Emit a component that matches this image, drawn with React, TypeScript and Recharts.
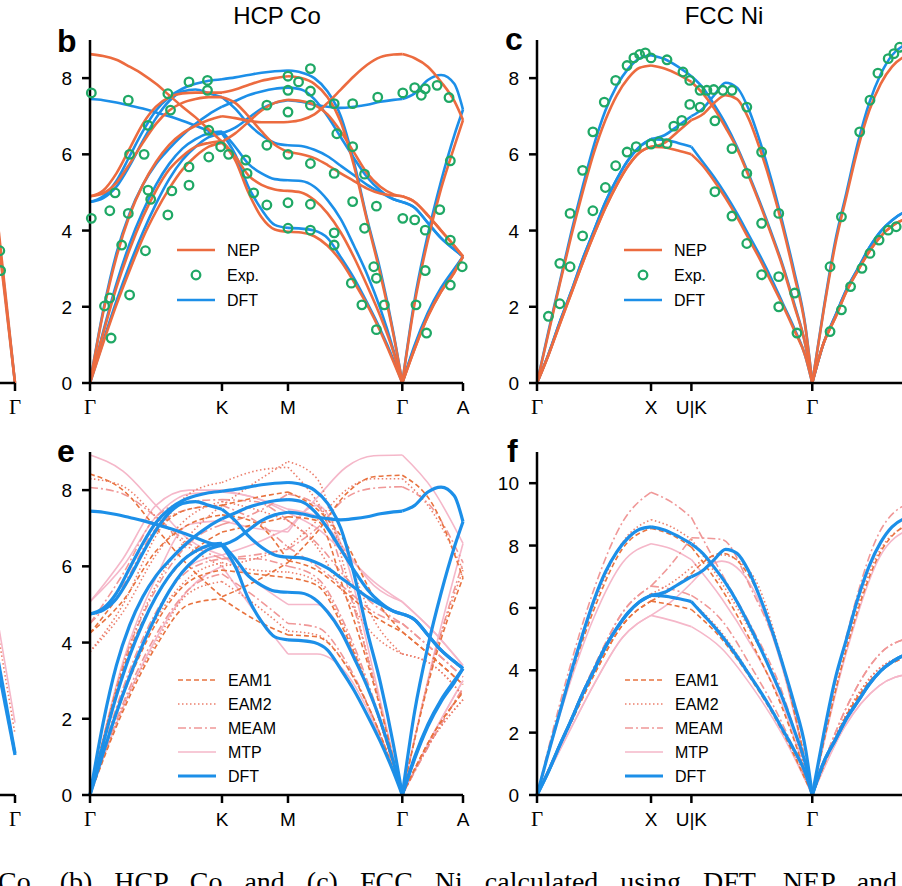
import React from "react";
import { ComposedChart, Line, Scatter, XAxis, YAxis, Legend } from "recharts";

const ORANGE = "#ec6b3f";
const BLUE = "#1c8fe8";
const GREEN = "#1fa865";
const EAM1_C = "#e8733f";
const EAM2_C = "#ec7f6c";
const MEAM_C = "#f09898";
const MTP_C = "#f5b7c9";

const SANS = "'Liberation Sans', Arial, Helvetica, sans-serif";
const SERIF = "'Liberation Serif', 'Times New Roman', serif";
const AXIS = { stroke: "#000", strokeWidth: 2.5 };

// ---- HCP Co: path Γ-K-M-Γ-A ----
const coPath = [
  0, 0.1, 0.2, 0.3, 0.4, 0.5, 0.6, 0.7, 0.8, 0.9, 1.0,
  1.1, 1.2, 1.3, 1.4, 1.5,
  1.6, 1.7, 1.8, 1.9, 2.0, 2.1, 2.2, 2.3, 2.366,
  2.46, 2.56, 2.66, 2.76, 2.826,
];
const coCuts = [0, 10, 15, 24, 29];
const coTicks = [0, 1, 1.5, 2.366, 2.826];
const coTickNames = ["Γ", "K", "M", "Γ", "A"];

const coDft: number[][] = [
  [0, 1.1, 2.15, 3.1, 3.95, 4.7, 5.35, 5.85, 6.2, 6.45, 6.55, 6.0, 5.15, 4.55, 4.15, 4.07, 4.05, 4.0, 3.8, 3.3, 2.75, 2.1, 1.4, 0.6, 0, 1.0, 1.85, 2.5, 3.0, 3.32],
  [0, 1.35, 2.6, 3.65, 4.5, 5.2, 5.75, 6.15, 6.4, 6.55, 6.6, 6.2, 5.75, 5.5, 5.35, 5.32, 5.3, 5.15, 4.8, 4.3, 3.6, 2.85, 1.95, 0.85, 0, 0.95, 1.8, 2.45, 2.95, 3.32],
  [0, 1.9, 3.4, 4.45, 5.2, 5.75, 6.15, 6.5, 6.8, 7.05, 7.25, 7.4, 7.55, 7.65, 7.72, 7.75, 7.7, 7.45, 7.0, 6.45, 5.9, 5.4, 5.05, 4.82, 4.75, 4.6, 4.2, 3.8, 3.5, 3.32],
  [7.45, 7.42, 7.36, 7.28, 7.2, 7.1, 7.0, 6.88, 6.75, 6.62, 6.55, 6.7, 6.95, 7.2, 7.35, 7.42, 7.38, 7.3, 7.25, 7.22, 7.25, 7.3, 7.38, 7.43, 7.45, 7.6, 7.95, 8.08, 7.85, 7.17],
  [4.75, 4.85, 5.15, 5.7, 6.35, 6.95, 7.4, 7.65, 7.7, 7.6, 7.5, 7.2, 6.8, 6.5, 6.3, 6.24, 6.22, 6.12, 5.95, 5.7, 5.45, 5.2, 5.0, 4.82, 4.75, 4.6, 4.2, 3.8, 3.5, 3.32],
  [4.75, 4.9, 5.3, 5.95, 6.6, 7.15, 7.5, 7.72, 7.85, 7.93, 7.97, 8.02, 8.08, 8.14, 8.18, 8.2, 8.15, 8.0, 7.65, 7.0, 5.8, 4.3, 2.95, 1.3, 0, 2.2, 3.9, 5.3, 6.5, 7.17],
];

const coNep: number[][] = [
  [0, 1.05, 2.05, 2.95, 3.8, 4.5, 5.1, 5.6, 5.95, 6.2, 6.3, 5.85, 5.0, 4.35, 4.03, 3.97, 3.95, 3.85, 3.6, 3.2, 2.65, 2.05, 1.35, 0.55, 0, 0.9, 1.75, 2.4, 2.9, 3.32],
  [0, 1.3, 2.5, 3.5, 4.35, 5.05, 5.6, 5.95, 6.2, 6.3, 6.35, 5.95, 5.45, 5.2, 5.08, 5.04, 5.0, 4.8, 4.45, 3.95, 3.3, 2.55, 1.75, 0.8, 0, 0.9, 1.75, 2.4, 2.9, 3.32],
  [0, 1.85, 3.3, 4.4, 5.2, 5.8, 6.25, 6.55, 6.75, 6.9, 7.0, 6.95, 6.88, 6.84, 6.84, 6.85, 6.9, 7.05, 7.35, 7.7, 8.05, 8.35, 8.55, 8.62, 8.63, 8.52, 8.3, 7.9, 7.4, 6.9],
  [8.63, 8.58, 8.48, 8.3, 8.1, 7.85, 7.55, 7.25, 6.97, 6.65, 6.33, 6.55, 6.85, 7.15, 7.35, 7.43, 7.4, 7.3, 7.05, 6.6, 6.05, 5.5, 5.15, 4.95, 4.9, 4.75, 4.4, 4.0, 3.6, 3.32],
  [4.9, 4.98, 5.25, 5.75, 6.3, 6.8, 7.15, 7.35, 7.45, 7.5, 7.5, 7.35, 7.0, 6.6, 6.25, 6.06, 6.0, 5.9, 5.72, 5.5, 5.3, 5.1, 4.97, 4.92, 4.9, 4.75, 4.4, 4.0, 3.6, 3.32],
  [4.9, 5.05, 5.5, 6.15, 6.8, 7.25, 7.5, 7.6, 7.62, 7.62, 7.62, 7.7, 7.82, 7.93, 8.0, 8.05, 8.0, 7.85, 7.5, 6.85, 5.7, 4.25, 2.85, 1.25, 0, 2.1, 3.75, 5.1, 6.2, 6.9],
];

const coExp: [number, number][] = [
  [0.01, 7.61], [0.01, 4.32], [0.29, 7.42], [0.15, 4.52], [0.19, 4.99], [0.11, 2.02], [0.15, 2.23],
  [0.16, 1.18], [0.24, 3.62], [0.3, 2.31], [0.29, 4.45], [0.3, 6.0], [0.41, 6.0], [0.44, 5.06],
  [0.46, 4.82], [0.42, 3.47], [0.44, 6.76], [0.59, 7.59], [0.61, 7.16], [0.62, 5.04], [0.59, 4.41],
  [0.75, 7.9], [0.75, 5.67], [0.75, 5.19], [0.89, 7.94], [0.89, 7.68], [0.9, 6.63], [0.9, 5.93],
  [0.99, 6.2], [1.05, 6.0], [1.18, 5.85], [1.19, 5.5], [1.24, 4.99], [1.34, 4.67], [1.34, 6.24],
  [1.34, 7.29], [1.5, 8.05], [1.5, 7.68], [1.5, 7.11], [1.5, 6.0], [1.5, 4.73], [1.5, 4.06],
  [1.58, 7.9], [1.67, 8.25], [1.67, 7.66], [1.67, 7.29], [1.67, 5.76], [1.67, 4.69], [1.67, 4.01],
  [1.85, 7.33], [1.85, 5.5], [1.85, 3.94], [1.85, 3.62], [1.87, 6.54], [1.99, 7.33], [1.99, 6.2],
  [1.99, 4.76], [1.98, 2.62], [2.06, 2.05], [2.08, 5.48], [2.08, 4.06], [2.15, 3.05], [2.17, 2.75],
  [2.17, 4.64], [2.17, 1.4], [2.18, 7.5], [2.23, 2.05], [2.37, 7.61], [2.37, 4.32], [2.46, 7.75],
  [2.46, 4.28], [2.47, 2.05], [2.51, 7.55], [2.54, 7.72], [2.54, 4.01], [2.54, 2.95], [2.55, 1.31],
  [2.63, 7.81], [2.65, 4.55], [2.72, 7.49], [2.73, 5.83], [2.73, 3.75], [2.73, 2.57], [2.82, 3.05],
];

// classical / ML potentials for Co on a coarser path grid
const coCoarse = [0, 0.25, 0.5, 0.75, 1.0, 1.25, 1.5, 1.72, 1.94, 2.15, 2.366, 2.6, 2.826];
const coCoarseCuts = [0, 4, 6, 10, 12];

const coEam1: number[][] = [
  [0, 2.2, 3.9, 5.0, 5.15, 4.6, 4.2, 4.15, 3.4, 2.0, 0, 1.6, 2.7],
  [0, 2.6, 4.5, 5.6, 5.9, 5.8, 5.7, 5.5, 4.2, 2.4, 0, 1.6, 2.7],
  [0, 3.3, 5.2, 6.3, 6.9, 7.1, 7.3, 7.2, 5.2, 2.9, 0, 3.4, 5.7],
  [4.25, 5.1, 6.4, 7.1, 7.35, 7.15, 6.15, 5.9, 5.3, 4.7, 4.28, 3.6, 2.9],
  [4.25, 5.4, 6.9, 7.5, 7.6, 7.8, 7.95, 7.5, 6.6, 5.2, 4.28, 3.6, 2.9],
  [8.42, 8.0, 7.0, 6.0, 5.2, 5.6, 6.1, 6.9, 7.9, 8.35, 8.39, 7.6, 5.7],
];
const coEam2: number[][] = [
  [0, 2.3, 4.0, 5.3, 5.6, 5.0, 4.3, 4.2, 3.4, 2.0, 0, 1.5, 2.5],
  [0, 2.7, 4.6, 5.7, 6.1, 5.9, 5.85, 5.6, 4.3, 2.4, 0, 1.5, 2.5],
  [0, 3.4, 5.5, 6.8, 7.6, 8.2, 8.75, 8.3, 5.8, 3.0, 0, 3.5, 5.9],
  [3.76, 5.0, 6.8, 7.9, 8.2, 8.5, 8.6, 7.7, 6.3, 4.6, 3.7, 3.4, 2.6],
  [3.76, 4.8, 6.3, 7.3, 7.7, 7.5, 7.2, 6.5, 5.2, 4.2, 3.7, 3.4, 2.6],
  [8.3, 8.1, 7.3, 6.5, 6.0, 6.2, 6.5, 7.2, 8.0, 8.3, 8.3, 7.4, 5.9],
];
const coMeam: number[][] = [
  [0, 2.4, 4.2, 5.4, 5.8, 5.2, 4.5, 4.4, 3.5, 2.0, 0, 1.5, 2.8],
  [0, 2.8, 4.8, 5.9, 6.2, 6.2, 6.0, 5.7, 4.4, 2.5, 0, 1.5, 2.8],
  [0, 3.4, 5.4, 6.6, 7.1, 7.4, 7.9, 7.6, 5.6, 3.0, 0, 3.5, 6.1],
  [4.5, 5.5, 7.0, 7.5, 7.6, 7.2, 6.5, 6.0, 5.4, 4.8, 4.5, 3.8, 3.1],
  [4.5, 5.8, 7.3, 7.7, 7.75, 7.7, 7.2, 6.6, 5.7, 5.0, 4.5, 3.8, 3.1],
  [8.07, 7.9, 7.3, 6.6, 6.2, 6.3, 6.45, 7.0, 7.8, 8.05, 8.09, 7.5, 6.1],
];
const coMtp: number[][] = [
  [0, 2.3, 4.1, 5.4, 6.0, 4.8, 3.7, 3.7, 3.2, 1.9, 0, 1.6, 3.0],
  [0, 2.7, 4.7, 6.0, 6.3, 5.6, 5.0, 5.0, 4.1, 2.4, 0, 1.6, 3.0],
  [0, 3.5, 5.7, 7.1, 7.2, 7.0, 6.9, 7.6, 6.2, 3.2, 0, 3.6, 6.6],
  [5.07, 6.0, 7.3, 7.9, 7.95, 7.8, 7.4, 7.0, 6.3, 5.6, 5.07, 4.3, 3.4],
  [5.07, 6.2, 7.6, 8.0, 8.0, 7.8, 7.5, 7.3, 6.4, 5.5, 5.07, 4.3, 3.4],
  [8.92, 8.5, 7.6, 6.7, 6.3, 6.6, 7.0, 7.8, 8.6, 8.9, 8.92, 8.0, 6.6],
];

// ---- FCC Ni: path Γ-X-U|K-Γ-L ----
const niPath = [
  0, 0.1, 0.2, 0.3, 0.4, 0.5, 0.6, 0.7, 0.8, 0.9, 1.0,
  1.118, 1.236, 1.354,
  1.454, 1.554, 1.654, 1.754, 1.854, 1.954, 2.054, 2.154, 2.254, 2.354, 2.414,
  2.514, 2.614, 2.714, 2.814, 2.914, 3.014, 3.114, 3.214, 3.28,
];
const niCuts = [0, 10, 13, 24, 33];
const niTicks = [0, 1, 1.354, 2.414];
const niTickNames = ["Γ", "X", "U|K", "Γ"];

const niDft: number[][] = [
  [0, 1.35, 2.65, 3.95, 5.15, 6.25, 7.15, 7.8, 8.25, 8.52, 8.6, 8.5, 8.3, 8.05, 7.75, 7.3, 6.8, 6.2, 5.5, 4.75, 3.95, 3.1, 2.1, 1.0, 0, 1.95, 3.7, 5.0, 6.3, 7.35, 8.1, 8.6, 8.85, 8.92],
  [0, 0.75, 1.6, 2.4, 3.25, 4.0, 4.75, 5.35, 5.85, 6.2, 6.4, 6.5, 6.75, 7.0, 7.2, 7.55, 7.88, 7.75, 7.2, 6.35, 5.35, 4.2, 2.95, 1.5, 0, 1.05, 1.75, 2.45, 3.0, 3.55, 3.98, 4.27, 4.47, 4.52],
  [0, 0.75, 1.6, 2.4, 3.25, 4.0, 4.75, 5.35, 5.85, 6.2, 6.4, 6.38, 6.3, 6.2, 5.8, 5.4, 4.95, 4.45, 3.9, 3.35, 2.75, 2.1, 1.45, 0.7, 0, 1.05, 1.75, 2.45, 3.0, 3.55, 3.98, 4.27, 4.47, 4.52],
];
const niNep: number[][] = [
  [0, 1.3, 2.6, 3.85, 5.0, 6.05, 6.9, 7.55, 8.0, 8.27, 8.33, 8.25, 8.1, 7.9, 7.6, 7.2, 6.7, 6.15, 5.45, 4.7, 3.9, 3.05, 2.05, 1.0, 0, 1.9, 3.6, 4.9, 6.15, 7.15, 7.85, 8.3, 8.55, 8.62],
  [0, 0.73, 1.55, 2.35, 3.15, 3.9, 4.6, 5.2, 5.7, 6.05, 6.2, 6.3, 6.6, 6.9, 7.05, 7.35, 7.55, 7.45, 6.95, 6.15, 5.2, 4.1, 2.85, 1.45, 0, 1.05, 1.7, 2.4, 2.95, 3.45, 3.85, 4.12, 4.28, 4.32],
  [0, 0.73, 1.55, 2.35, 3.15, 3.9, 4.6, 5.2, 5.7, 6.05, 6.2, 6.18, 6.1, 6.0, 5.7, 5.3, 4.85, 4.35, 3.8, 3.25, 2.65, 2.05, 1.4, 0.7, 0, 1.05, 1.7, 2.4, 2.95, 3.45, 3.85, 4.12, 4.28, 4.32],
];

const niExp: [number, number][] = [
  [0.1, 1.75], [0.2, 2.08], [0.2, 3.14], [0.29, 3.05], [0.29, 4.45], [0.4, 3.86], [0.4, 5.58],
  [0.49, 4.52], [0.49, 6.59], [0.59, 7.37], [0.6, 5.13], [0.69, 7.94], [0.69, 5.7], [0.79, 8.33],
  [0.79, 6.06], [0.85, 8.53], [0.87, 6.2], [0.9, 8.62], [0.95, 8.66], [1.0, 8.53], [1.0, 6.27],
  [1.07, 6.33], [1.14, 8.48], [1.14, 6.28], [1.2, 6.74], [1.27, 6.89], [1.28, 8.16], [1.34, 7.94],
  [1.34, 7.31], [1.43, 7.68], [1.43, 7.24], [1.49, 7.68], [1.55, 7.7], [1.56, 6.88], [1.63, 7.68],
  [1.71, 7.68], [1.71, 6.15], [1.84, 7.24], [1.84, 5.5], [1.56, 5.02], [1.71, 4.38], [1.84, 3.66],
  [1.97, 6.06], [1.97, 4.19], [1.97, 2.84], [2.12, 4.45], [2.12, 2.79], [2.12, 2.0], [2.26, 2.36],
  [2.28, 1.31], [2.57, 3.05], [2.57, 1.35], [2.67, 4.36], [2.67, 1.92], [2.75, 2.53], [2.83, 6.59],
  [2.85, 3.01], [2.92, 7.42], [2.92, 3.4], [2.99, 8.13], [3.0, 3.75], [3.08, 8.51], [3.08, 4.01],
  [3.13, 8.64], [3.15, 4.1], [3.18, 8.81],
];

const niCoarse = [0, 0.25, 0.5, 0.75, 1.0, 1.177, 1.354, 1.62, 1.88, 2.15, 2.414, 2.7, 3.0, 3.28];
const niCoarseCuts = [0, 4, 6, 10, 13];

const niEam1: number[][] = [
  [0, 3.25, 5.95, 7.9, 8.55, 8.35, 7.95, 6.6, 4.9, 2.8, 0, 4.5, 7.7, 8.75],
  [0, 1.95, 3.85, 5.45, 6.22, 6.6, 7.1, 7.75, 6.9, 4.2, 0, 2.45, 3.95, 4.45],
  [0, 1.95, 3.85, 5.45, 6.22, 6.1, 5.95, 5.0, 3.7, 2.05, 0, 2.45, 3.95, 4.45],
];
const niEam2: number[][] = [
  [0, 3.35, 6.1, 8.1, 8.83, 8.6, 8.2, 6.8, 5.2, 3.2, 0, 4.6, 7.8, 8.7],
  [0, 2.0, 3.95, 5.6, 6.45, 6.8, 7.3, 7.7, 7.1, 4.3, 0, 2.5, 4.05, 4.5],
  [0, 2.0, 3.95, 5.6, 6.45, 6.35, 6.2, 5.2, 3.8, 2.15, 0, 2.5, 4.05, 4.5],
];
const niMeam: number[][] = [
  [0, 3.6, 6.6, 8.75, 9.71, 9.4, 8.9, 7.1, 5.4, 3.3, 0, 4.9, 8.4, 9.4],
  [0, 2.05, 4.1, 5.85, 6.7, 7.4, 8.25, 8.2, 6.6, 4.2, 0, 2.7, 4.5, 5.05],
  [0, 2.05, 4.1, 5.85, 6.7, 6.6, 6.4, 5.6, 4.1, 2.3, 0, 2.7, 4.5, 5.05],
];
const niMtp: number[][] = [
  [0, 3.15, 5.7, 7.45, 8.06, 7.9, 7.55, 6.3, 4.8, 2.9, 0, 4.4, 7.6, 8.55],
  [0, 1.8, 3.55, 5.05, 5.76, 6.2, 6.8, 7.5, 6.7, 4.1, 0, 2.2, 3.5, 3.9],
  [0, 1.8, 3.55, 5.05, 5.76, 5.6, 5.4, 4.7, 3.5, 1.95, 0, 2.2, 3.5, 3.9],
];

// tails of the neighbouring panels on the far left
const tailPath = [0.8, 1];
const tailCuts = [0, 1];
const tailNep = [[4.9, 0], [4.5, 0]];
const tailDftTop = [[4.7, 0]];
const tailExp: [number, number][] = [[0.848, 3.47], [0.856, 2.95]];
const tailDftBottom = [[4.0, 1.1], [3.75, 1.05]];
const tailMtp = [[5.0, 1.9]];
const tailEam2 = [[4.7, 1.6]];

type Style = { color: string; width: number; dash?: string; curve?: "monotone" | "linear" };

const STYLE = {
  nep: { color: ORANGE, width: 2.6 },
  dft: { color: BLUE, width: 2.6 },
  dftBold: { color: BLUE, width: 3.2 },
  eam1: { color: EAM1_C, width: 1.6, dash: "5 3" },
  eam2: { color: EAM2_C, width: 1.6, dash: "1.5 2.5" },
  meam: { color: MEAM_C, width: 1.6, dash: "8 3 2 3" },
  mtp: { color: MTP_C, width: 1.6 },
};

function bandLines(id: string, path: number[], cuts: number[], bands: number[][], st: Style) {
  const out: React.ReactElement[] = [];
  bands.forEach((band, b) => {
    for (let s = 0; s < cuts.length - 1; s++) {
      const pts: { x: number; y: number }[] = [];
      for (let j = cuts[s]; j <= cuts[s + 1]; j++) pts.push({ x: path[j], y: band[j] });
      out.push(
        <Line
          key={`${id}-${b}-${s}`}
          data={pts}
          dataKey="y"
          type={st.curve ?? "monotone"}
          stroke={st.color}
          strokeWidth={st.width}
          strokeDasharray={st.dash}
          dot={false}
          activeDot={false}
          legendType="none"
          isAnimationActive={false}
        />
      );
    }
  });
  return out;
}

const ring = (p: any) => (
  <circle cx={p.cx} cy={p.cy} r={4.3} fill="none" stroke={GREEN} strokeWidth={2.3} />
);

function expPoints(id: string, pts: [number, number][]) {
  return (
    <Scatter
      key={id}
      data={pts.map(([x, y]) => ({ x, y }))}
      shape={ring}
      legendType="none"
      isAnimationActive={false}
    />
  );
}

type LegendRow = { label: string; color: string; width: number; dash?: string; marker?: boolean };

const coreLegend: LegendRow[] = [
  { label: "NEP", color: ORANGE, width: 2.6 },
  { label: "Exp.", color: GREEN, width: 2.3, marker: true },
  { label: "DFT", color: BLUE, width: 2.6 },
];
const potLegend: LegendRow[] = [
  { label: "EAM1", color: EAM1_C, width: 1.6, dash: "5 3" },
  { label: "EAM2", color: EAM2_C, width: 1.6, dash: "1.5 2.5" },
  { label: "MEAM", color: MEAM_C, width: 1.6, dash: "8 3 2 3" },
  { label: "MTP", color: MTP_C, width: 1.6 },
  { label: "DFT", color: BLUE, width: 3.2 },
];

function legendBox(rows: LegendRow[], step: number) {
  return () => (
    <svg width={110} height={rows.length * step + 6} style={{ display: "block" }}>
      {rows.map((r, i) => {
        const cy = 12 + i * step;
        return (
          <g key={r.label}>
            {r.marker ? (
              <circle cx={21} cy={cy} r={4.3} fill="none" stroke={r.color} strokeWidth={r.width} />
            ) : (
              <line x1={2} x2={40} y1={cy} y2={cy} stroke={r.color} strokeWidth={r.width} strokeDasharray={r.dash} />
            )}
            <text x={52} y={cy} dy="0.36em" fontSize={16} fontFamily={SANS} fill="#000">
              {r.label}
            </text>
          </g>
        );
      })}
    </svg>
  );
}

function panelLegend(rows: LegendRow[], step: number, left: number, top: number) {
  return (
    <Legend
      key="legend"
      layout="vertical"
      align="center"
      verticalAlign="middle"
      content={legendBox(rows, step)}
      wrapperStyle={{ left, top, width: 110 }}
    />
  );
}

function xTickRenderer(ticks: number[], names: string[]) {
  return (props: any) => {
    const { x, y, payload } = props;
    const i = ticks.findIndex((t) => Math.abs(t - payload.value) < 1e-6);
    const name = i >= 0 ? names[i] : "";
    const greek = name === "Γ";
    return (
      <text
        x={x}
        y={y + 21}
        textAnchor="middle"
        fill="#000"
        fontSize={greek ? 21 : 19}
        fontFamily={greek ? SERIF : SANS}
      >
        {name}
      </text>
    );
  };
}

const yTick = (props: any) => (
  <text x={props.x} y={props.y} dy={7} textAnchor="end" fill="#000" fontSize={19} fontFamily={SANS}>
    {props.payload.value}
  </text>
);

type PanelProps = {
  left: number;
  top: number;
  width: number;
  xEnd: number;
  ticks: number[];
  names: string[];
  yMax: number;
  yTicks: number[];
  hideY?: boolean;
  children: React.ReactNode;
};

function BandPanel(p: PanelProps) {
  return (
    <div style={{ position: "absolute", left: p.left, top: p.top }}>
      <ComposedChart width={p.width} height={393} margin={{ top: 10, right: 20, bottom: 0, left: 0 }}>
        <XAxis
          type="number"
          dataKey="x"
          domain={[0, p.xEnd]}
          ticks={p.ticks}
          interval={0}
          height={40}
          tickSize={8}
          tickMargin={2}
          axisLine={AXIS}
          tickLine={AXIS}
          tick={xTickRenderer(p.ticks, p.names)}
        />
        <YAxis
          type="number"
          dataKey="y"
          domain={[0, p.yMax]}
          ticks={p.yTicks}
          interval={0}
          width={60}
          hide={p.hideY}
          tickSize={8}
          tickMargin={10}
          axisLine={AXIS}
          tickLine={AXIS}
          tick={yTick}
        />
        {p.children}
      </ComposedChart>
    </div>
  );
}

const yTicks9 = [0, 2, 4, 6, 8];
const yTicks11 = [0, 2, 4, 6, 8, 10];

export default function App() {
  return (
    <div
      style={{
        position: "absolute",
        left: 0,
        top: 0,
        width: 902,
        height: 886,
        overflow: "hidden",
        background: "#fff",
      }}
    >
      {/* a: tail of the previous panel */}
      <BandPanel left={-85} top={30} width={120} xEnd={1} ticks={[1]} names={["Γ"]} yMax={9} yTicks={yTicks9} hideY>
        {[
          ...bandLines("ad", tailPath, tailCuts, tailDftTop, { ...STYLE.dft, curve: "linear" }),
          ...bandLines("an", tailPath, tailCuts, tailNep, { ...STYLE.nep, curve: "linear" }),
          expPoints("ax", tailExp),
        ]}
      </BandPanel>

      {/* b: HCP Co, NEP vs DFT vs experiment */}
      <BandPanel left={30} top={30} width={453} xEnd={2.826} ticks={coTicks} names={coTickNames} yMax={9} yTicks={yTicks9}>
        {[
          ...bandLines("bd", coPath, coCuts, coDft, STYLE.dft),
          ...bandLines("bn", coPath, coCuts, coNep, STYLE.nep),
          expPoints("bx", coExp),
          panelLegend(coreLegend, 25, 145, 208),
        ]}
      </BandPanel>

      {/* c: FCC Ni, NEP vs DFT vs experiment */}
      <BandPanel left={477} top={30} width={454} xEnd={3.28} ticks={niTicks} names={niTickNames} yMax={9} yTicks={yTicks9}>
        {[
          ...bandLines("cd", niPath, niCuts, niDft, STYLE.dft),
          ...bandLines("cn", niPath, niCuts, niNep, STYLE.nep),
          expPoints("cx", niExp),
          panelLegend(coreLegend, 25, 145, 208),
        ]}
      </BandPanel>

      {/* d: tail of the previous panel */}
      <BandPanel left={-85} top={442} width={120} xEnd={1} ticks={[1]} names={["Γ"]} yMax={9} yTicks={yTicks9} hideY>
        {[
          ...bandLines("dm", tailPath, tailCuts, tailMtp, { ...STYLE.mtp, curve: "linear" }),
          ...bandLines("de", tailPath, tailCuts, tailEam2, { ...STYLE.eam2, curve: "linear" }),
          ...bandLines("dd", tailPath, tailCuts, tailDftBottom, { ...STYLE.dftBold, curve: "linear" }),
        ]}
      </BandPanel>

      {/* e: HCP Co, empirical potentials vs DFT */}
      <BandPanel left={30} top={442} width={453} xEnd={2.826} ticks={coTicks} names={coTickNames} yMax={9} yTicks={yTicks9}>
        {[
          ...bandLines("e1", coCoarse, coCoarseCuts, coMtp, STYLE.mtp),
          ...bandLines("e2", coCoarse, coCoarseCuts, coMeam, STYLE.meam),
          ...bandLines("e3", coCoarse, coCoarseCuts, coEam2, STYLE.eam2),
          ...bandLines("e4", coCoarse, coCoarseCuts, coEam1, STYLE.eam1),
          ...bandLines("ed", coPath, coCuts, coDft, STYLE.dftBold),
          panelLegend(potLegend, 24, 146, 226),
        ]}
      </BandPanel>

      {/* f: FCC Ni, empirical potentials vs DFT */}
      <BandPanel left={477} top={442} width={454} xEnd={3.28} ticks={niTicks} names={niTickNames} yMax={11} yTicks={yTicks11}>
        {[
          ...bandLines("f1", niCoarse, niCoarseCuts, niMtp, STYLE.mtp),
          ...bandLines("f2", niCoarse, niCoarseCuts, niMeam, STYLE.meam),
          ...bandLines("f3", niCoarse, niCoarseCuts, niEam2, STYLE.eam2),
          ...bandLines("f4", niCoarse, niCoarseCuts, niEam1, STYLE.eam1),
          ...bandLines("fd", niPath, niCuts, niDft, STYLE.dftBold),
          panelLegend(potLegend, 24, 146, 226),
        ]}
      </BandPanel>

      <svg
        width={902}
        height={886}
        style={{ position: "absolute", left: 0, top: 0, pointerEvents: "none" }}
      >
        <text x={277} y={24} textAnchor="middle" fontSize={24} fontFamily={SANS}>HCP Co</text>
        <text x={724} y={24} textAnchor="middle" fontSize={24} fontFamily={SANS}>FCC Ni</text>
        <text x={57} y={52} fontSize={32} fontWeight="bold" fontFamily={SANS}>b</text>
        <text x={505} y={50} fontSize={32} fontWeight="bold" fontFamily={SANS}>c</text>
        <text x={57} y={462} fontSize={32} fontWeight="bold" fontFamily={SANS}>e</text>
        <text x={507} y={462} fontSize={32} fontWeight="bold" fontFamily={SANS}>f</text>
        <text x={-2} y={891} fontSize={28} fontFamily={SERIF} style={{ wordSpacing: "15px" }}>
          Co. (b) HCP Co and (c) FCC Ni calculated using DFT, NEP and
        </text>
      </svg>
    </div>
  );
}
